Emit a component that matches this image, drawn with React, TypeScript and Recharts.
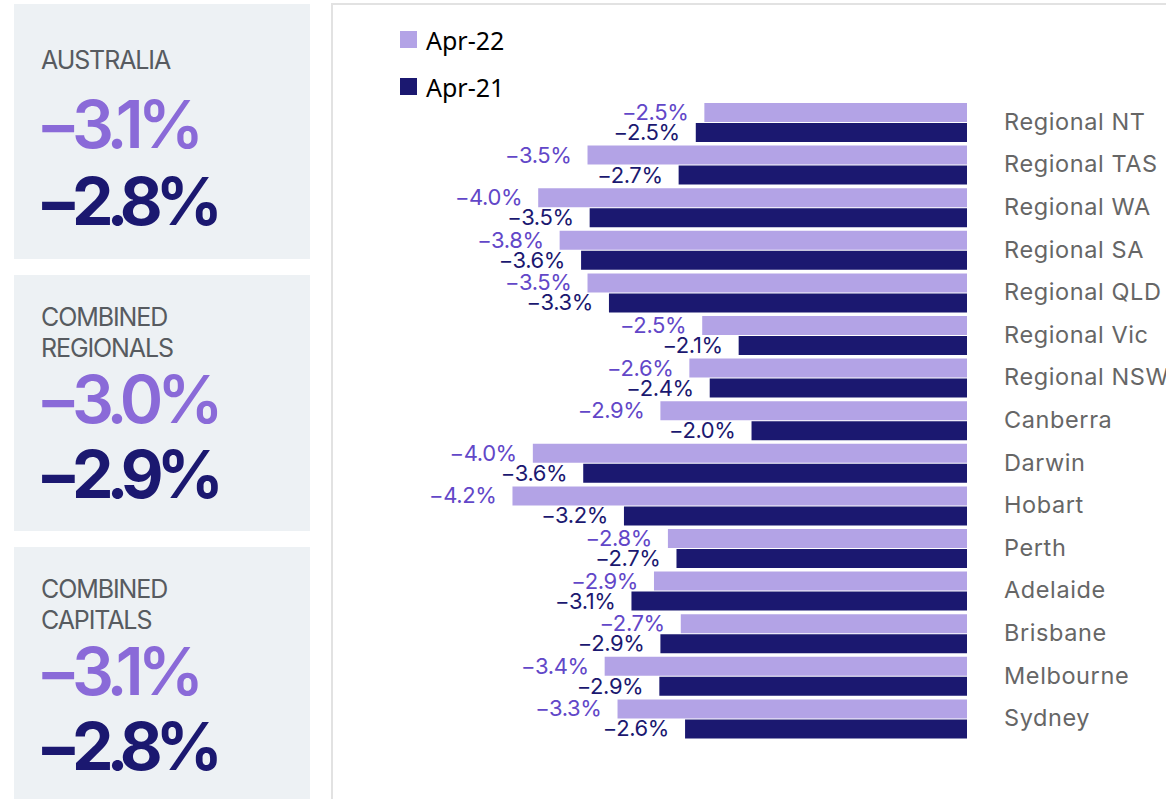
import React from "react";
import { BarChart, Bar, XAxis, YAxis, Legend, LabelList } from "recharts";

const categories = [
  "Regional NT", "Regional TAS", "Regional WA", "Regional SA", "Regional QLD",
  "Regional Vic", "Regional NSW", "Canberra", "Darwin", "Hobart",
  "Perth", "Adelaide", "Brisbane", "Melbourne", "Sydney",
];
const apr22 = [-2.45, -3.54, -4.0, -3.8, -3.54, -2.47, -2.59, -2.86, -4.05, -4.24, -2.79, -2.92, -2.67, -3.38, -3.26];
const apr21 = [-2.53, -2.69, -3.52, -3.6, -3.34, -2.13, -2.4, -2.01, -3.58, -3.2, -2.71, -3.13, -2.86, -2.87, -2.63];
const apr22Labels = ["-2.5%", "-3.5%", "-4.0%", "-3.8%", "-3.5%", "-2.5%", "-2.6%", "-2.9%", "-4.0%", "-4.2%", "-2.8%", "-2.9%", "-2.7%", "-3.4%", "-3.3%"];
const apr21Labels = ["-2.5%", "-2.7%", "-3.5%", "-3.6%", "-3.3%", "-2.1%", "-2.4%", "-2.0%", "-3.6%", "-3.2%", "-2.7%", "-3.1%", "-2.9%", "-2.9%", "-2.6%"];
const seriesOrder = ["Apr-22", "Apr-21"];

const panelTitles = [["AUSTRALIA"], ["COMBINED", "REGIONALS"], ["COMBINED", "CAPITALS"]];
const panelApr22 = ["-3.1%", "-3.0%", "-3.1%"];
const panelApr21 = ["-2.8%", "-2.9%", "-2.8%"];

const LIGHT = "#B3A3E6";
const DARK = "#1B1870";
const LIGHT_TEXT = "#6247C8";
const BIG_LIGHT = "#8A6AD8";

const data = categories.map((name, i) => ({
  name,
  apr22: apr22[i],
  apr21: apr21[i],
  l22: apr22Labels[i],
  l21: apr21Labels[i],
}));

const makeLabel = (key: "l22" | "l21", color: string) => (props: any) => {
  const { x, y, width, height, index } = props;
  const left = Math.min(Number(x), Number(x) + Number(width));
  return (
    <text
      x={left - 16}
      y={Number(y) + Number(height) / 2}
      dy={7.5}
      textAnchor="end"
      fill={color}
      fontFamily="Inter, 'Noto Sans', sans-serif"
      fontSize={22}
      letterSpacing={-0.4}
    >
      {data[index][key].replace("-", "\u2212")}
    </text>
  );
};

const LegendContent = (props: any) => {
  const payload = [...(props.payload || [])].sort(
    (a: any, b: any) => seriesOrder.indexOf(a.value) - seriesOrder.indexOf(b.value)
  );
  return (
    <div style={{ fontFamily: "'Noto Sans', sans-serif", fontSize: 25, color: "#000" }}>
      {payload.map((p: any, i: number) => (
        <div key={i} style={{ display: "flex", alignItems: "center", height: 47 }}>
          <span style={{ width: 17, height: 17, background: p.color, display: "inline-block", marginRight: 9 }} />
          <span>{p.value}</span>
        </div>
      ))}
    </div>
  );
};

const CatTick = (props: any) => {
  const { x, y, payload } = props;
  return (
    <text x={x} y={y} dy={7.5} textAnchor="start" fill="#666" fontFamily="Inter, sans-serif" fontSize={23.5} letterSpacing={0.6}>
      {payload.value}
    </text>
  );
};

const BigNumber = ({ y, value, color, weight, spacing }: any) => (
  <g fill={color} fontFamily="Inter, sans-serif" fontWeight={weight} fontSize={66}>
    <text x={36} y={y}>{"\u2212"}</text>
    <text x={72} y={y} letterSpacing={spacing}>{value.replace("-", "")}</text>
  </g>
);

const boxTops = [4, 275, 547];
const boxHeights = [255, 256, 260];
const titleBaselines = [[69], [326, 357], [598, 629]];
const big22Baselines = [148, 423, 695];
const big21Baselines = [225, 498, 770];

export default function App() {
  return (
    <div style={{ position: "absolute", left: 0, top: 0, width: 1166, height: 799, overflow: "hidden", background: "#fff" }}>
      <svg width={331} height={799} style={{ position: "absolute", left: 0, top: 0 }}>
        {boxTops.map((t, i) => (
          <g key={i}>
            <rect x={14} y={t} width={296} height={boxHeights[i]} fill="#EDF1F4" />
            {panelTitles[i].map((line, j) => (
              <text key={j} x={41} y={titleBaselines[i][j]} fill="#575B60" fontFamily="Inter, sans-serif" fontSize={25} letterSpacing={-1.1}>
                {line}
              </text>
            ))}
            <BigNumber y={big22Baselines[i]} value={panelApr22[i]} color={BIG_LIGHT} weight={600} spacing={-6} />
            <BigNumber y={big21Baselines[i]} value={panelApr21[i]} color={DARK} weight={700} spacing={-7} />
          </g>
        ))}
      </svg>
      <div style={{ position: "absolute", left: 331, top: 3, width: 900, height: 900, border: "2px solid #E2E2E2", boxSizing: "border-box" }} />
      <div style={{ position: "absolute", left: 331, top: 0 }}>
        <BarChart
          width={835}
          height={799}
          data={data}
          layout="vertical"
          margin={{ top: 101, right: 0, bottom: 59, left: 100 }}
          barGap={1}
          barSize={19}
        >
          <XAxis type="number" domain={[-5, 0]} hide />
          <YAxis
            type="category"
            dataKey="name"
            orientation="right"
            width={199}
            axisLine={false}
            tickLine={false}
            tickSize={6}
            tickMargin={31}
            interval={0}
            tick={<CatTick />}
          />
          <Legend
            layout="vertical"
            align="center"
            verticalAlign="middle"
            content={<LegendContent />}
            wrapperStyle={{ position: "absolute", left: 69, top: 16, width: 200 }}
          />
          <Bar dataKey="apr22" name="Apr-22" fill={LIGHT} isAnimationActive={false}>
            <LabelList dataKey="apr22" content={makeLabel("l22", LIGHT_TEXT)} />
          </Bar>
          <Bar dataKey="apr21" name="Apr-21" fill={DARK} isAnimationActive={false}>
            <LabelList dataKey="apr21" content={makeLabel("l21", DARK)} />
          </Bar>
        </BarChart>
      </div>
    </div>
  );
}
